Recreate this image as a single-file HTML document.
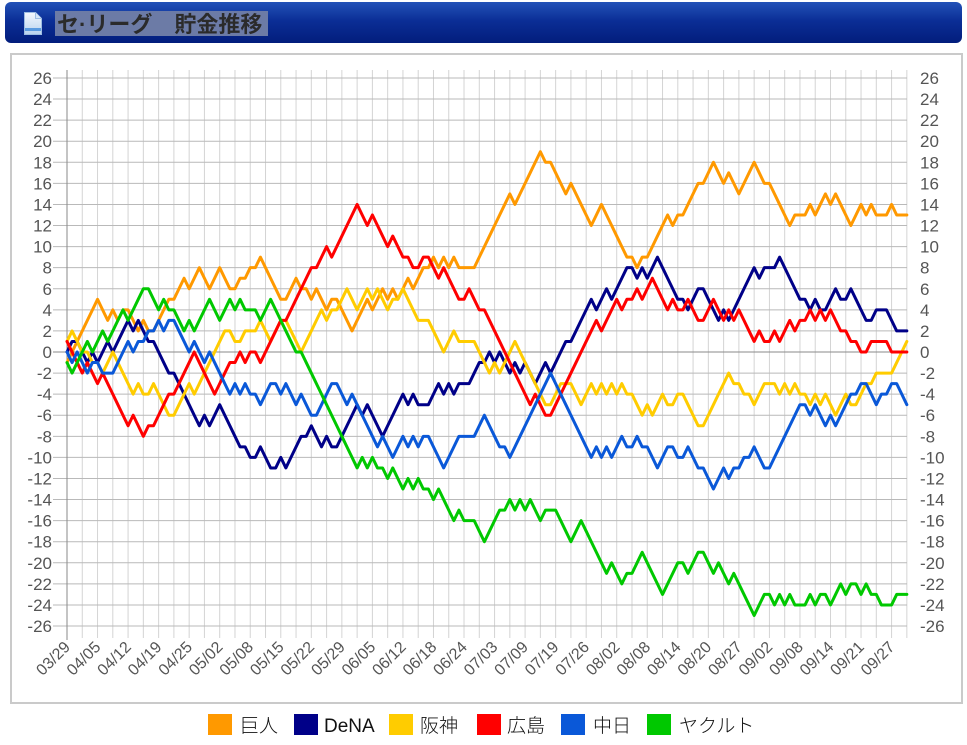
<!DOCTYPE html>
<html><head><meta charset="utf-8">
<style>
html,body{margin:0;padding:0;background:#fff;width:967px;height:745px;overflow:hidden;}
#hdr{position:absolute;left:5px;top:2px;width:957px;height:41px;border-radius:6px;
background:linear-gradient(#2352b8 0%,#0b2e96 45%,#021d7c 100%);}
svg{position:absolute;left:0;top:0;}
</style></head><body>
<div id="hdr"></div>
<svg width="967" height="745" viewBox="0 0 967 745" xmlns="http://www.w3.org/2000/svg" font-family="'Liberation Sans','Noto Sans CJK JP',sans-serif">
<defs>
<linearGradient id="doc" x1="0" y1="0" x2="0" y2="1"><stop offset="0" stop-color="#f4f8fd"/><stop offset="1" stop-color="#b9d3ef"/></linearGradient>
</defs>
<!-- doc icon -->
<path d="M24.5 12.5h11l6 6v16h-17z" fill="url(#doc)" stroke="#9dbde2" stroke-width="1"/>
<path d="M35.5 12.5v6h6" fill="#d6e6f7" stroke="#9dbde2" stroke-width="1"/>
<rect x="25" y="28" width="16" height="3" fill="#5b9be0"/>
<!-- title -->
<rect x="55" y="11" width="213" height="25" fill="#6c7ba6"/>
<text x="57" y="32" font-size="22" font-weight="bold" fill="#2b2b2b" font-family="'Liberation Sans','Noto Sans CJK JP',sans-serif">セ·リーグ　貯金推移</text>
<!-- frame -->
<rect x="11" y="54" width="951" height="649" fill="#fff" stroke="#cacaca" stroke-width="2"/>
<!-- vertical grid -->
<path transform="translate(67,0) scale(5.09,1)" vector-effect="non-scaling-stroke" stroke="#d4d4d4" stroke-width="1" fill="none"
d="M3 70V638M6 70V638M9 70V638M12 70V638M15 70V638M18 70V638M21 70V638M24 70V638M27 70V638M30 70V638M33 70V638M36 70V638M39 70V638M42 70V638M45 70V638M48 70V638M51 70V638M54 70V638M57 70V638M60 70V638M63 70V638M66 70V638M69 70V638M72 70V638M75 70V638M78 70V638M81 70V638M84 70V638M87 70V638M90 70V638M93 70V638M96 70V638M99 70V638M102 70V638M105 70V638M108 70V638M111 70V638M114 70V638M117 70V638M120 70V638M123 70V638M126 70V638M129 70V638M132 70V638M135 70V638M138 70V638M141 70V638M144 70V638M147 70V638M150 70V638M153 70V638M156 70V638M159 70V638M162 70V638M165 70V638"/>
<!-- horizontal grid -->
<path transform="translate(0,352) scale(1,-10.54)" vector-effect="non-scaling-stroke" stroke="#b9b9b9" stroke-width="1" fill="none"
d="M53 26H907M53 24H907M53 22H907M53 20H907M53 18H907M53 16H907M53 14H907M53 12H907M53 10H907M53 8H907M53 6H907M53 4H907M53 2H907M53 -2H907M53 -4H907M53 -6H907M53 -8H907M53 -10H907M53 -12H907M53 -14H907M53 -16H907M53 -18H907M53 -20H907M53 -22H907M53 -24H907M53 -26H907"/>
<line x1="53" y1="352" x2="907" y2="352" stroke="#8a8a8a" stroke-width="1"/>
<line x1="67" y1="70" x2="67" y2="640" stroke="#8a8a8a" stroke-width="1"/>
<!-- left y labels -->
<g font-size="17" fill="#555" text-anchor="end">
<text x="52" y="84">26</text><text x="52" y="105">24</text><text x="52" y="126.1">22</text><text x="52" y="147.2">20</text><text x="52" y="168.3">18</text><text x="52" y="189.4">16</text><text x="52" y="210.4">14</text><text x="52" y="231.5">12</text><text x="52" y="252.6">10</text><text x="52" y="273.7">8</text><text x="52" y="294.8">6</text><text x="52" y="315.8">4</text><text x="52" y="336.9">2</text><text x="52" y="358">0</text><text x="52" y="379.1">-2</text><text x="52" y="400.2">-4</text><text x="52" y="421.2">-6</text><text x="52" y="442.3">-8</text><text x="52" y="463.4">-10</text><text x="52" y="484.5">-12</text><text x="52" y="505.6">-14</text><text x="52" y="526.6">-16</text><text x="52" y="547.7">-18</text><text x="52" y="568.8">-20</text><text x="52" y="589.9">-22</text><text x="52" y="611">-24</text><text x="52" y="632">-26</text>
</g>
<!-- right y labels -->
<g font-size="17" fill="#555" text-anchor="start">
<text x="920" y="84">26</text><text x="920" y="105">24</text><text x="920" y="126.1">22</text><text x="920" y="147.2">20</text><text x="920" y="168.3">18</text><text x="920" y="189.4">16</text><text x="920" y="210.4">14</text><text x="920" y="231.5">12</text><text x="920" y="252.6">10</text><text x="920" y="273.7">8</text><text x="920" y="294.8">6</text><text x="920" y="315.8">4</text><text x="920" y="336.9">2</text><text x="920" y="358">0</text><text x="920" y="379.1">-2</text><text x="920" y="400.2">-4</text><text x="920" y="421.2">-6</text><text x="920" y="442.3">-8</text><text x="920" y="463.4">-10</text><text x="920" y="484.5">-12</text><text x="920" y="505.6">-14</text><text x="920" y="526.6">-16</text><text x="920" y="547.7">-18</text><text x="920" y="568.8">-20</text><text x="920" y="589.9">-22</text><text x="920" y="611">-24</text><text x="920" y="632">-26</text>
</g>
<!-- x labels -->
<g font-size="16" fill="#555" text-anchor="end">
<text x="71" y="648" transform="rotate(-45 71 648)">03/29</text>
<text x="101.5" y="648" transform="rotate(-45 101.5 648)">04/05</text>
<text x="132.1" y="648" transform="rotate(-45 132.1 648)">04/12</text>
<text x="162.6" y="648" transform="rotate(-45 162.6 648)">04/19</text>
<text x="193.2" y="648" transform="rotate(-45 193.2 648)">04/25</text>
<text x="223.7" y="648" transform="rotate(-45 223.7 648)">05/02</text>
<text x="254.2" y="648" transform="rotate(-45 254.2 648)">05/08</text>
<text x="284.8" y="648" transform="rotate(-45 284.8 648)">05/15</text>
<text x="315.3" y="648" transform="rotate(-45 315.3 648)">05/22</text>
<text x="345.9" y="648" transform="rotate(-45 345.9 648)">05/29</text>
<text x="376.4" y="648" transform="rotate(-45 376.4 648)">06/05</text>
<text x="406.9" y="648" transform="rotate(-45 406.9 648)">06/12</text>
<text x="437.5" y="648" transform="rotate(-45 437.5 648)">06/18</text>
<text x="468" y="648" transform="rotate(-45 468 648)">06/24</text>
<text x="498.6" y="648" transform="rotate(-45 498.6 648)">07/03</text>
<text x="529.1" y="648" transform="rotate(-45 529.1 648)">07/09</text>
<text x="559.6" y="648" transform="rotate(-45 559.6 648)">07/19</text>
<text x="590.2" y="648" transform="rotate(-45 590.2 648)">07/26</text>
<text x="620.7" y="648" transform="rotate(-45 620.7 648)">08/02</text>
<text x="651.3" y="648" transform="rotate(-45 651.3 648)">08/08</text>
<text x="681.8" y="648" transform="rotate(-45 681.8 648)">08/14</text>
<text x="712.3" y="648" transform="rotate(-45 712.3 648)">08/20</text>
<text x="742.9" y="648" transform="rotate(-45 742.9 648)">08/27</text>
<text x="773.4" y="648" transform="rotate(-45 773.4 648)">09/02</text>
<text x="804" y="648" transform="rotate(-45 804 648)">09/08</text>
<text x="834.5" y="648" transform="rotate(-45 834.5 648)">09/14</text>
<text x="865" y="648" transform="rotate(-45 865 648)">09/21</text>
<text x="895.6" y="648" transform="rotate(-45 895.6 648)">09/27</text>
</g>
<!-- series -->
<g transform="translate(67,352) scale(5.09,-10.54)" fill="none" stroke-width="3" stroke-linejoin="round" stroke-linecap="round">
<polyline vector-effect="non-scaling-stroke" stroke="#ff9900" points="0,-1 1,0 2,1 3,2 4,3 5,4 6,5 7,4 8,3 9,4 10,3 11,4 12,4 13,3 14,2 15,3 16,2 17,2 18,3 19,4 20,5 21,5 22,6 23,7 24,6 25,7 26,8 27,7 28,6 29,7 30,8 31,7 32,6 33,6 34,7 35,7 36,8 37,8 38,9 39,8 40,7 41,6 42,5 43,5 44,6 45,7 46,6 47,6 48,5 49,6 50,5 51,4 52,5 53,5 54,4 55,3 56,2 57,3 58,4 59,5 60,4 61,5 62,6 63,5 64,6 65,5 66,6 67,7 68,6 69,7 70,8 71,8 72,9 73,8 74,9 75,8 76,9 77,8 78,8 79,8 80,8 81,9 82,10 83,11 84,12 85,13 86,14 87,15 88,14 89,15 90,16 91,17 92,18 93,19 94,18 95,18 96,17 97,16 98,15 99,16 100,15 101,14 102,13 103,12 104,13 105,14 106,13 107,12 108,11 109,10 110,9 111,9 112,8 113,9 114,9 115,10 116,11 117,12 118,13 119,12 120,13 121,13 122,14 123,15 124,16 125,16 126,17 127,18 128,17 129,16 130,17 131,16 132,15 133,16 134,17 135,18 136,17 137,16 138,16 139,15 140,14 141,13 142,12 143,13 144,13 145,13 146,14 147,13 148,14 149,15 150,14 151,15 152,14 153,13 154,12 155,13 156,14 157,13 158,14 159,13 160,13 161,13 162,14 163,13 164,13 165,13"/>
<polyline vector-effect="non-scaling-stroke" stroke="#000088" points="0,0 1,1 2,1 3,0 4,-1 5,0 6,-1 7,0 8,1 9,0 10,1 11,2 12,3 13,2 14,3 15,2 16,1 17,1 18,0 19,-1 20,-2 21,-2 22,-3 23,-4 24,-5 25,-6 26,-7 27,-6 28,-7 29,-6 30,-5 31,-6 32,-7 33,-8 34,-9 35,-9 36,-10 37,-10 38,-9 39,-10 40,-11 41,-11 42,-10 43,-11 44,-10 45,-9 46,-8 47,-8 48,-7 49,-8 50,-9 51,-8 52,-9 53,-9 54,-8 55,-7 56,-6 57,-5 58,-6 59,-5 60,-6 61,-7 62,-8 63,-7 64,-6 65,-5 66,-4 67,-5 68,-4 69,-5 70,-5 71,-5 72,-4 73,-3 74,-4 75,-3 76,-4 77,-3 78,-3 79,-3 80,-2 81,-1 82,-1 83,0 84,-1 85,0 86,-1 87,-2 88,-1 89,-2 90,-1 91,-2 92,-3 93,-2 94,-1 95,-2 96,-1 97,0 98,1 99,1 100,2 101,3 102,4 103,5 104,4 105,5 106,6 107,5 108,6 109,7 110,8 111,8 112,7 113,8 114,7 115,8 116,9 117,8 118,7 119,6 120,5 121,5 122,4 123,5 124,6 125,6 126,5 127,4 128,3 129,4 130,3 131,4 132,5 133,6 134,7 135,8 136,7 137,8 138,8 139,8 140,9 141,8 142,7 143,6 144,5 145,5 146,4 147,5 148,4 149,4 150,5 151,6 152,5 153,5 154,6 155,5 156,4 157,3 158,3 159,4 160,4 161,4 162,3 163,2 164,2 165,2"/>
<polyline vector-effect="non-scaling-stroke" stroke="#ffcc00" points="0,1 1,2 2,1 3,0 4,0 5,-1 6,-1 7,-2 8,-1 9,0 10,-1 11,-2 12,-3 13,-4 14,-3 15,-4 16,-4 17,-3 18,-4 19,-5 20,-6 21,-6 22,-5 23,-4 24,-3 25,-4 26,-3 27,-2 28,-1 29,0 30,1 31,2 32,2 33,1 34,1 35,2 36,2 37,2 38,3 39,2 40,1 41,2 42,3 43,3 44,2 45,1 46,0 47,1 48,2 49,3 50,4 51,3 52,4 53,4 54,5 55,6 56,5 57,4 58,5 59,6 60,5 61,6 62,5 63,4 64,5 65,5 66,6 67,5 68,4 69,3 70,3 71,3 72,2 73,1 74,0 75,1 76,2 77,1 78,1 79,1 80,1 81,0 82,-1 83,-2 84,-1 85,-2 86,-1 87,0 88,1 89,0 90,-1 91,-2 92,-3 93,-4 94,-5 95,-5 96,-4 97,-3 98,-3 99,-3 100,-4 101,-5 102,-4 103,-3 104,-4 105,-3 106,-4 107,-3 108,-4 109,-3 110,-4 111,-4 112,-5 113,-6 114,-5 115,-6 116,-5 117,-4 118,-5 119,-5 120,-4 121,-4 122,-5 123,-6 124,-7 125,-7 126,-6 127,-5 128,-4 129,-3 130,-2 131,-3 132,-3 133,-4 134,-4 135,-5 136,-4 137,-3 138,-3 139,-3 140,-4 141,-3 142,-4 143,-3 144,-4 145,-4 146,-5 147,-4 148,-5 149,-4 150,-5 151,-6 152,-5 153,-4 154,-5 155,-5 156,-4 157,-3 158,-3 159,-2 160,-2 161,-2 162,-2 163,-1 164,0 165,1"/>
<polyline vector-effect="non-scaling-stroke" stroke="#ff0000" points="0,1 1,0 2,-1 3,-2 4,-1 5,-2 6,-3 7,-2 8,-3 9,-4 10,-5 11,-6 12,-7 13,-6 14,-7 15,-8 16,-7 17,-7 18,-6 19,-5 20,-4 21,-4 22,-3 23,-2 24,-1 25,0 26,-1 27,-2 28,-3 29,-4 30,-3 31,-2 32,-1 33,-1 34,0 35,-1 36,0 37,0 38,-1 39,0 40,1 41,2 42,3 43,3 44,4 45,5 46,6 47,7 48,8 49,8 50,9 51,10 52,9 53,10 54,11 55,12 56,13 57,14 58,13 59,12 60,13 61,12 62,11 63,10 64,11 65,10 66,9 67,9 68,8 69,8 70,9 71,9 72,8 73,7 74,8 75,7 76,6 77,5 78,5 79,6 80,5 81,4 82,4 83,3 84,2 85,1 86,0 87,-1 88,-2 89,-3 90,-4 91,-5 92,-4 93,-5 94,-6 95,-6 96,-5 97,-4 98,-3 99,-2 100,-1 101,0 102,1 103,2 104,3 105,2 106,3 107,4 108,5 109,4 110,5 111,5 112,6 113,5 114,6 115,7 116,6 117,5 118,4 119,5 120,4 121,4 122,5 123,4 124,3 125,3 126,4 127,5 128,4 129,3 130,4 131,3 132,4 133,3 134,2 135,1 136,2 137,1 138,1 139,2 140,1 141,2 142,3 143,2 144,3 145,3 146,4 147,3 148,4 149,3 150,4 151,3 152,2 153,2 154,1 155,1 156,0 157,0 158,1 159,1 160,1 161,1 162,0 163,0 164,0 165,0"/>
<polyline vector-effect="non-scaling-stroke" stroke="#0a58d8" points="0,0 1,-1 2,0 3,-1 4,-2 5,-1 6,-1 7,-2 8,-2 9,-2 10,-1 11,0 12,1 13,0 14,1 15,1 16,2 17,2 18,3 19,2 20,3 21,3 22,2 23,1 24,0 25,1 26,0 27,-1 28,0 29,-1 30,-2 31,-3 32,-4 33,-3 34,-4 35,-3 36,-4 37,-4 38,-5 39,-4 40,-3 41,-3 42,-4 43,-3 44,-4 45,-5 46,-4 47,-5 48,-6 49,-6 50,-5 51,-4 52,-3 53,-3 54,-4 55,-5 56,-4 57,-5 58,-6 59,-7 60,-8 61,-9 62,-8 63,-9 64,-10 65,-9 66,-8 67,-9 68,-8 69,-9 70,-8 71,-8 72,-9 73,-10 74,-11 75,-10 76,-9 77,-8 78,-8 79,-8 80,-8 81,-7 82,-6 83,-7 84,-8 85,-9 86,-9 87,-10 88,-9 89,-8 90,-7 91,-6 92,-5 93,-4 94,-3 95,-2 96,-3 97,-4 98,-5 99,-6 100,-7 101,-8 102,-9 103,-10 104,-9 105,-10 106,-9 107,-10 108,-9 109,-8 110,-9 111,-9 112,-8 113,-9 114,-9 115,-10 116,-11 117,-10 118,-9 119,-9 120,-10 121,-10 122,-9 123,-10 124,-11 125,-11 126,-12 127,-13 128,-12 129,-11 130,-12 131,-11 132,-11 133,-10 134,-10 135,-9 136,-10 137,-11 138,-11 139,-10 140,-9 141,-8 142,-7 143,-6 144,-5 145,-5 146,-6 147,-5 148,-6 149,-7 150,-6 151,-7 152,-6 153,-5 154,-4 155,-4 156,-3 157,-3 158,-4 159,-5 160,-4 161,-4 162,-3 163,-3 164,-4 165,-5"/>
<polyline vector-effect="non-scaling-stroke" stroke="#00c800" points="0,-1 1,-2 2,-1 3,0 4,1 5,0 6,1 7,2 8,1 9,2 10,3 11,4 12,3 13,4 14,5 15,6 16,6 17,5 18,4 19,5 20,4 21,4 22,3 23,2 24,3 25,2 26,3 27,4 28,5 29,4 30,3 31,4 32,5 33,4 34,5 35,4 36,4 37,4 38,3 39,4 40,5 41,4 42,3 43,2 44,1 45,0 46,0 47,-1 48,-2 49,-3 50,-4 51,-5 52,-6 53,-7 54,-8 55,-9 56,-10 57,-11 58,-10 59,-11 60,-10 61,-11 62,-11 63,-12 64,-11 65,-12 66,-13 67,-12 68,-13 69,-12 70,-13 71,-13 72,-14 73,-13 74,-14 75,-15 76,-16 77,-15 78,-16 79,-16 80,-16 81,-17 82,-18 83,-17 84,-16 85,-15 86,-15 87,-14 88,-15 89,-14 90,-15 91,-14 92,-15 93,-16 94,-15 95,-15 96,-15 97,-16 98,-17 99,-18 100,-17 101,-16 102,-17 103,-18 104,-19 105,-20 106,-21 107,-20 108,-21 109,-22 110,-21 111,-21 112,-20 113,-19 114,-20 115,-21 116,-22 117,-23 118,-22 119,-21 120,-20 121,-20 122,-21 123,-20 124,-19 125,-19 126,-20 127,-21 128,-20 129,-21 130,-22 131,-21 132,-22 133,-23 134,-24 135,-25 136,-24 137,-23 138,-23 139,-24 140,-23 141,-24 142,-23 143,-24 144,-24 145,-24 146,-23 147,-24 148,-23 149,-23 150,-24 151,-23 152,-22 153,-23 154,-22 155,-22 156,-23 157,-22 158,-23 159,-23 160,-24 161,-24 162,-24 163,-23 164,-23 165,-23"/>
</g>
<!-- legend -->
<g font-size="19" fill="#111" font-weight="300" font-family="'Liberation Sans','Noto Sans CJK JP',sans-serif">
<rect x="208" y="714" width="24" height="21" fill="#ff9900"/><text x="240" y="732">巨人</text>
<rect x="294" y="714" width="24" height="21" fill="#000088"/><text x="324" y="732">DeNA</text>
<rect x="389" y="714" width="24" height="21" fill="#ffcc00"/><text x="420" y="732">阪神</text>
<rect x="477" y="714" width="24" height="21" fill="#ff0000"/><text x="507" y="732">広島</text>
<rect x="561" y="714" width="24" height="21" fill="#0a58d8"/><text x="593" y="732">中日</text>
<rect x="647" y="714" width="24" height="21" fill="#00c800"/><text x="679" y="732">ヤクルト</text>
</g>
</svg>
</body></html>
